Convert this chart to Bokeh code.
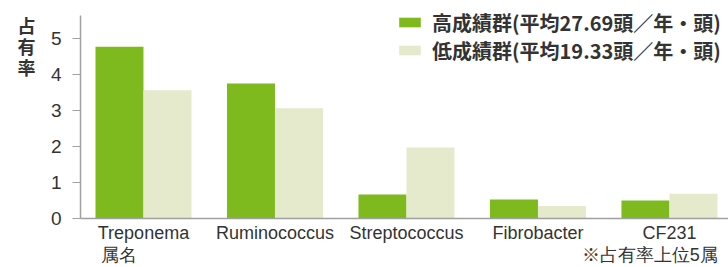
from bokeh.plotting import figure
from bokeh.models import Range1d, FixedTicker, Legend, LegendItem, ColumnDataSource, LinearAxis
from bokeh.embed import file_html
from bokeh.resources import INLINE

categories = ["Treponema", "Ruminococcus", "Streptococcus", "Fibrobacter", "CF231"]
high_group = [4.77, 3.75, 0.67, 0.53, 0.50]
low_group = [3.56, 3.06, 1.97, 0.35, 0.69]
y_ticks = [0, 1, 2, 3, 4, 5]
high_label = "高成績群(平均27.69頭／年・頭)"
low_label = "低成績群(平均19.33頭／年・頭)"
y_title = "占\n有\n率"
x_title = "属名"
note = "※占有率上位5属"

GREEN = "#7eba1e"
LIGHT = "#e4eacb"
TXT = "#333333"
AXIS = "#a0a0a0"
LATIN = "Liberation Sans"
CJK = "Noto Sans CJK JP"

idx = list(range(len(categories)))
bw = 0.365
src = ColumnDataSource(dict(
    xh=[i - bw / 2 for i in idx],
    xl=[i + bw / 2 for i in idx],
    high=high_group,
    low=low_group,
))

Y_TOP = 5.917
p = figure(width=728, height=267, output_backend="svg", toolbar_location=None,
           x_range=Range1d(-0.479, 4.449), y_range=Range1d(0, Y_TOP),
           min_border_left=80, min_border_right=0, min_border_top=5, min_border_bottom=49)
p.outline_line_color = None
p.xgrid.visible = False
p.ygrid.visible = False

rh = p.vbar(x="xh", top="high", width=bw, source=src, fill_color=GREEN, line_color=None)
rl = p.vbar(x="xl", top="low", width=bw, source=src, fill_color=LIGHT, line_color=None)

# x axis: categories, plus footer texts on a second line
x_text_pos = [-0.19, 3.85]
overrides = {i: c for i, c in zip(idx, categories)}
overrides[x_text_pos[0]] = "\n" + x_title
overrides[x_text_pos[1]] = "\n" + note
xa = p.xaxis[0]
xa.ticker = FixedTicker(ticks=idx + x_text_pos)
xa.major_label_overrides = overrides
xa.major_tick_line_color = None
xa.minor_tick_line_color = None
xa.axis_line_color = AXIS
xa.axis_line_width = 1.5
xa.major_label_text_font = LATIN
xa.major_label_text_font_size = "18px"
xa.major_label_text_color = TXT
xa.major_label_text_line_height = 1.12
xa.major_label_standoff = -2

# y axis
ya = p.yaxis[0]
ya.ticker = FixedTicker(ticks=y_ticks)
ya.bounds = (0, 5.64)
ya.minor_tick_line_color = None
ya.axis_line_color = AXIS
ya.axis_line_width = 1.5
ya.major_tick_line_color = AXIS
ya.major_tick_out = 8
ya.major_tick_in = 0
ya.major_label_text_font = LATIN
ya.major_label_text_font_size = "19px"
ya.major_label_text_color = TXT
ya.major_label_standoff = 11

# second left axis carrying the stacked y title
y_text_pos = [4.8]
yb = LinearAxis(ticker=FixedTicker(ticks=y_text_pos),
                major_label_overrides={y_text_pos[0]: y_title})
yb.axis_line_color = None
yb.major_tick_line_color = None
yb.minor_tick_line_color = None
yb.major_label_text_font = CJK
yb.major_label_text_font_size = "18px"
yb.major_label_text_font_style = "bold"
yb.major_label_text_color = TXT
yb.major_label_text_line_height = 0.8
yb.major_label_standoff = 6
p.add_layout(yb, "left")

def make_legend(item, renderer, loc):
    lg = Legend(items=[LegendItem(label=item, renderers=[renderer])], location=loc)
    lg.margin = 0
    lg.padding = 0
    lg.spacing = 0
    lg.glyph_width = 27
    lg.glyph_height = 12
    lg.label_height = 30
    lg.label_standoff = 9
    lg.label_text_font = CJK
    lg.label_text_font_size = "20px"
    lg.label_text_font_style = "bold"
    lg.label_text_color = TXT
    lg.background_fill_alpha = 0
    lg.border_line_color = None
    return lg

p.add_layout(make_legend(high_label, rh, (316, 181)))
p.add_layout(make_legend(low_label, rl, (316, 153)))

open("out.html", "w").write(file_html(p, INLINE))
